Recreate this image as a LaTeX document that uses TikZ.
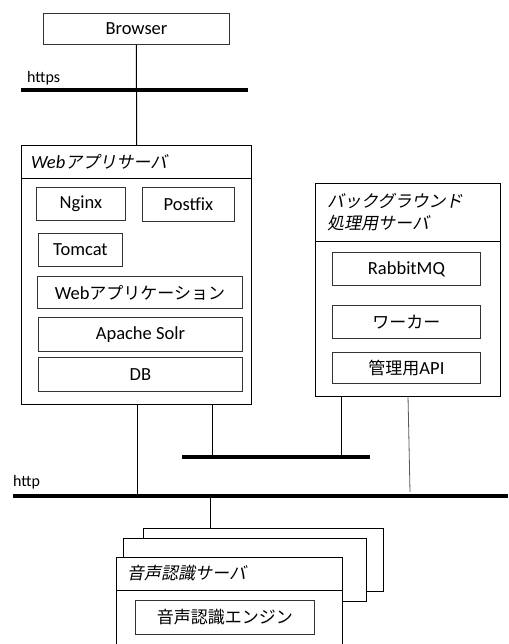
\documentclass[tikz,border=0pt]{standalone}
\usepackage{fontspec}
\setmainfont{Carlito}
\newfontfamily\jpf{Noto Sans CJK JP}
\newfontfamily\jpitf[FakeSlant=0.2]{Noto Sans CJK JP}
\newcommand{\J}[1]{{\jpf\fontsize{17}{20}\selectfont #1}}
\newcommand{\JI}[1]{{\jpitf\fontsize{17}{20}\selectfont #1}}
\begin{document}
\begin{tikzpicture}[x=1pt,y=-1pt,
  box/.style={draw=black!80, line width=0.9pt, anchor=north west, inner sep=0pt, font=\fontsize{18.5}{22}\selectfont},
  srv/.style={draw=black, line width=1.1pt, anchor=north west, inner sep=0pt, fill=white},
  hdr/.style={anchor=west, inner sep=0pt, font=\fontsize{18.5}{22}\selectfont},
  lbl/.style={anchor=base west, inner sep=0pt, font=\fontsize{16}{19}\selectfont},
  bar/.style={line width=4pt},
  conn/.style={line width=1pt},
  thinconn/.style={line width=0.8pt, draw=black!65}]
\useasboundingbox (0,0) rectangle (508,644);
\clip (0,0) rectangle (508,644);

% nodes
\node[box, minimum width=186pt, minimum height=31pt] (browser) at (43,13) {Browser};

\node[srv, minimum width=230pt, minimum height=259pt] (websrv) at (21,145) {};
\draw[line width=1pt] (websrv.west |- 0,179) coordinate (wh1) -- (wh1 -| websrv.east);
\node[hdr] (webtitle) at (31,162) {{\itshape Web}\JI{アプリサーバ}};
\node[box, minimum width=89pt, minimum height=33pt] (nginx) at (36,187) {Nginx};
\node[box, minimum width=92pt, minimum height=34pt] (postfix) at (142,187) {Postfix};
\node[box, minimum width=84pt, minimum height=33pt] (tomcat) at (38,233) {Tomcat};
\node[box, minimum width=205pt, minimum height=32pt] (webapp) at (37,276) {Web\J{アプリケーション}};
\node[box, minimum width=204pt, minimum height=34pt] (solr) at (38,317) {Apache Solr};
\node[box, minimum width=204pt, minimum height=34pt] (db) at (38,357) {DB};

\node[srv, minimum width=185pt, minimum height=213pt] (bgsrv) at (315,183) {};
\draw[line width=1pt] (bgsrv.west |- 0,241) coordinate (bh1) -- (bh1 -| bgsrv.east);
\node[hdr] (bgtitle1) at (327,201) {\JI{バックグラウンド}};
\node[hdr] (bgtitle2) at (327,223) {\JI{処理用サーバ}};
\node[box, minimum width=148pt, minimum height=33pt] (rabbit) at (332,252) {RabbitMQ};
\node[box, minimum width=148pt, minimum height=33pt] (worker) at (332,305) {\J{ワーカー}};
\node[box, minimum width=148pt, minimum height=31pt] (api) at (332,352) {\J{管理用}API};

\node[srv, minimum width=240pt, minimum height=63pt] (back) at (143,528) {};
\node[srv, minimum width=243pt, minimum height=63pt] (mid) at (123,538) {};
\node[srv, minimum width=226pt, minimum height=120pt] (front) at (116,557) {};
\draw[line width=1pt] (front.west |- 0,590) coordinate (fh1) -- (fh1 -| front.east);
\node[hdr] (fronttitle) at (127,573) {\JI{音声認識サーバ}};
\node[box, minimum width=179pt, minimum height=34pt] (engine) at (135,600) {\J{音声認識エンジン}};

% network bars
\coordinate (https1) at (21,90);
\coordinate (https2) at (248,90);
\coordinate (mid1) at (182,457);
\coordinate (mid2) at (370,457);
\coordinate (http1) at (13,496);
\coordinate (http2) at (508,496);
\node[lbl] (httpslbl) at (27,83) {https};
\node[lbl] (httplbl) at (13,486) {http};

% connectors
\draw[conn] (browser.south) -- (websrv.north);
\coordinate (w1) at (137,404);
\coordinate (w2) at (212,404);
\coordinate (b1) at (341,396);
\coordinate (b2) at (408,396);
\coordinate (b2e) at (410,492);
\coordinate (s1) at (210,496);
\draw[conn] (w1) -- (w1 |- http1);
\draw[conn] (w2) -- (w2 |- mid1);
\draw[conn] (b1) -- (b1 |- mid1);
\draw[thinconn] (b2) -- (b2e);
\draw[conn] (s1) -- (s1 |- back.north);

\draw[bar] (https1) -- (https2);
\draw[bar] (mid1) -- (mid2);
\draw[bar] (http1) -- (http2);
\end{tikzpicture}
\end{document}
